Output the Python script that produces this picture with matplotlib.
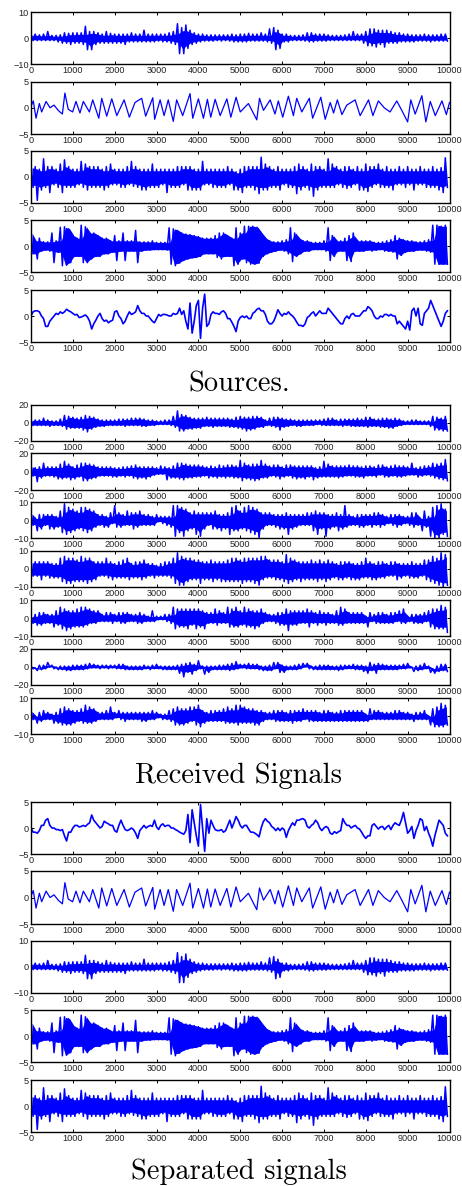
import numpy as np
import matplotlib
matplotlib.use("Agg")
import matplotlib.pyplot as plt

plt.rcParams["font.family"] = ["Liberation Sans"]

# Upper and lower excursions, one value per 100 samples
s1_hi = [1.5,1.5,1.2,1.5,2.5,1,1,1.2,2,1.8, 2,2,2,4.5,2.5,2.5,2,1.5,2.5,1.8, 1.5,1.5,1.5,1.5,2,1.5,1.5,3,1.5,1.5, 1.5,1.5,1.5,2,2.5,5.5,4,5,3,2,
         1.5,1.5,1.2,1.2,1.2,1.2,1.2,1.2,1.5,1.2, 1.5,1.5,1.8,1.5,1.5,2,1.5,3.5,4,3, 1.5,1.5,1,1,1,1.2,2,2,1.5,1.5, 1.5,1.2,1,1,1,1.2,1.5,2.5,1.5,1.5,
         2.5,3.5,3.5,3,3,3,2.5,2,2,1.5, 1.5,1.2,1.2,1.2,1.5,1.2,1.2,1.2,1.5,1.5]
s1_lo = [-1,-1,-1,-1,-1,-1,-1.5,-2,-2,-2.5, -2,-2,-2.5,-4.5,-4.5,-2.5,-2,-2,-2,-2, -2,-2,-2.5,-1.5,-1.5,-1.5,-1.5,-1.5,-1.5,-1.5, -1.2,-1.5,-1.5,-2,-2.5,-6,-6,-4,-2.5,-2,
         -1.5,-1.2,-1.2,-1.2,-1,-1.2,-1,-1.2,-1.5,-1.5, -1.5,-1.5,-1.2,-1.2,-1.2,-1.2,-1.5,-2,-4.5,-4, -1.5,-1.5,-1,-1,-1,-1.2,-1.5,-1.5,-1.2,-1.2, -1.2,-1,-1,-1,-1,-1,-1,-1,-1,-2,
         -3,-3,-3.5,-2.5,-3.5,-2,-2,-2,-1.5,-1.5, -1.5,-1.5,-1.2,-1.2,-1.2,-1.5,-1.2,-1.2,-1.2,-1.2]

# second source is a clean line, turning points only
s2_x = [0,55,120,200,255,360,455,550,650,750,810,890,995,1075,1170,1250,1395,1475,1620,1690,1810,1930,2050,2225,2350,2485,2645,2740,2910,2955,
        3085,3180,3280,3400,3480,3625,3800,3865,4000,4120,4215,4295,4400,4520,4680,4775,4900,5000,5195,5395,5460,5555,5715,5830,5910,6015,6150,6270,6350,6470,
        6650,6730,6925,7030,7150,7230,7320,7430,7545,7745,7865,8065,8170,8300,8440,8580,8740,8860,9000,9075,9180,9340,9435,9540,9660,9820,9925,10000]
s2_y = [0.3,1.3,-2,0.8,-0.8,1.2,0,0.5,-0.5,-1.2,2.8,-0.3,-0.8,1.2,-1,1.2,-0.8,1.5,-2,1.8,-1.6,1.7,-1.5,1.5,-1.8,1,1.8,-1.6,1.9,-2.2,
        1.5,-1.5,1.5,-2.6,1.5,-1.5,2.7,-2,1.7,-2,1.6,-1.8,1.6,-1.5,1.7,-1.8,2,-0.8,0.8,-2.3,1.8,-0.5,1.5,-1.2,1.3,-1.8,2.2,-1.5,1.8,-0.8,
        1.8,-2,2,-2.2,1,-1,1.5,-1.3,0.5,1.5,-1.5,1.5,-1.5,1.3,0,-0.8,1.3,-0.5,-2.7,1.5,-1.2,2.3,-2.7,1.2,-1.5,1.3,-1.3,1]

s3_hi = [2.2,2,1.5,3.5,2,2,1.5,2.5,3.3,2, 1.5,1.5,3,2.5,2,2,2,1.5,2,2.5, 1.5,1.5,1.5,2,3,2,1.5,1.5,1.5,2.5, 1.5,1.5,1.5,1.5,1.5,2,2,2,2,1.5,
         1.5,3,1.5,1.5,1.5,1.5,1.5,2,1.5,1, 1.5,2,2,2,2,3.8,2.5,2,1.5,2, 1.5,1.5,1.5,2,2.5,2,1.5,2.5,2,2, 1.5,3.5,2.5,2,1.5,2,2,1.5,2,1.5,
         2.5,2,2,2.5,1.5,2,1.5,1.5,2,1.5, 2,1.5,1.5,2,1.5,1.5,2,1.5,1.8,3.7]
s3_lo = [-2,-4.5,-2.5,-2,-3,-1.5,-2,-3,-2,-2, -2,-1.5,-2,-2.5,-2,-2,-2,-2.5,-2,-1.5, -1.5,-2,-2,-1.5,-1.8,-2,-2.5,-2.5,-2,-2, -2,-1.5,-3,-2,-2,-2,-1.5,-2.5,-2.5,-2.5,
         -2.5,-1.5,-1.5,-2,-2,-2,-2,-1.5,-2.5,-2.5, -3,-2,-2,-2.5,-3.2,-2.5,-2.5,-2,-2,-2.5, -1.5,-2,-2,-3.2,-2.5,-2,-2.5,-3.7,-2.5,-2, -2,-2,-2,-1.5,-2,-2.2,-2,-1.5,-2.5,-2.5,
         -2.8,-2,-1.5,-2,-2,-2,-2.5,-1.5,-1.5,-2, -1.5,-2.5,-1.5,-1.5,-2,-2,-2,-2.5,-3,-2]

s4_hi = [2.5,1,1.5,0.8,0.8,2.5,1,3.6,3.7,3.3, 2,1.5,4,3.7,2.5,2.5,2,1.5,1.5,1, 2,1,2.5,1,1,3,0.8,0.8,0.8,1, 0.7,0.7,0.7,3.5,3.3,3,2.5,2.3,2.2,2,
         1.8,1.5,1.5,1.5,2,2.5,2.5,2,1.5,3.5, 2.5,3.8,3.8,3.8,3.6,2.5,1.5,1,0.8,0.8, 1,1.2,3.5,2.5,1.5,1,1,0.7,0.7,0.7, 1,3.5,2,1,1,1.5,2,2.5,1,1,
         1,1,0.7,0.7,0.8,1,1.2,2,1.5,1.2, 1,1,0.8,0.8,1,1.2,4,4,3.8,4]
s4_lo = [-1.5,-2.5,-1,-0.8,-1,-3.2,-1.2,-3.8,-3.7,-3.2, -2,-2,-3.2,-3.2,-2.5,-2,-2,-1.5,-1.5,-1.2, -2.8,-1,-2.8,-1,-1,-3.2,-1,-0.8,-0.8,-0.7, -0.7,-0.7,-0.8,-3.5,-3.8,-3.3,-2.8,-2.5,-2.3,-2.2,
         -2,-1.5,-1.5,-1.5,-2.2,-2.5,-2,-2,-3.8,-3.5, -2.5,-3.2,-3.5,-3.5,-3.3,-2,-1.5,-1.2,-1,-0.8, -1,-1.5,-3,-2,-1.5,-1,-1,-0.7,-0.7,-0.7, -1,-2.8,-2,-1,-1,-2.8,-3,-1,-1,-1,
         -0.8,-1,-0.8,-0.7,-1,-1,-1.2,-2.5,-1.8,-1.2, -1,-1,-0.8,-0.8,-1,-1.2,-3.5,-3.5,-3.5,-3.5]

# fifth source and first separated trace: thin wandering lines, one value per 50 samples
s5 = [0,0.8,1,1,0.8,0,-0.5,-2,-2,-1, -0.5,0,0.5,0.3,0.8,0.5,0.8,1.3,1,0.8, 0.5,0.2,0.3,-0.3,-0.2,0,0.2,-0.2,-1,-2.5, -1.5,-0.8,0,0.5,-0.5,-1,-0.8,-1.3,-1,-0.8,
      0.8,1,0,-0.5,-1.5,-1,0,0.8,0.3,0.5, 0.8,2,1,0.5,0.5,0,0,-0.5,-1,-1.3, -0.5,0.3,0,0.3,0.3,0.2,0,0,0.5,0.3, 0.5,1.5,0.3,1,-1,-2.5,2.5,-3.3,-1,2,
      3,-4.3,1.5,4.2,-2,-1.5,0.3,0.8,0.5,0.5, 0.3,0.8,1,0.5,-0.5,-0.5,-1.2,-2,-3,-1, -0.3,0,-0.3,0,-0.5,-0.5,0.5,0.8,1.3,1.5, 1,1,0.3,-1,-1.5,-1.5,-1,0,1.2,0.5,
      0,0.5,0.3,0.8,0.3,0,-0.5,-1.2,-1.8,-1.8, -2,-1.5,-0.3,0,0.5,0.8,0,0.5,1,0.5, 0.5,0.5,1.5,1,0.5,0,-0.5,-1,-1.5,-1.5, -0.5,0,-0.5,0.3,0.5,0,0,0,0.5,1,
      1,1.8,1.5,1,0,-0.5,-0.5,0,-0.2,0.3, 0.3,0,0.3,0,0,-1.5,-1,-1.5,-2,-2.5, -1,-2.7,1,1.5,0,1.5,-1.5,-1.8,0.5,1, 1.5,3,2,1,0,-1,-2,-1,0.5,1]
sep1 = [0,-0.8,-0.8,-1,-0.5,0.5,0.5,1.5,1.8,0.5, 0,0,-0.3,-0.3,-0.5,-0.3,-1.5,-2.5,-0.8,-0.8, 0,0.5,0.5,0.2,0.3,0.5,0.3,0.7,1,2.5, 1.5,1,0.5,0,0.3,1.3,1,0.8,0.5,0.5,
        -0.5,-0.8,0.5,1.5,0.5,-0.3,-0.5,-0.3,0,-0.3, -1,-2,-0.5,0,0.5,0,0.3,0.5,0.3,1.5, 0.2,-0.3,0.5,0.8,0.3,0.5,0.5,0,0,-0.3, -0.5,-0.8,-1,-1.2,-0.5,2.6,-2.8,3.5,1,-1.5,
        -3.5,4.5,0,-4.5,1.8,-1,1.5,0.5,-0.3,-0.5, -0.5,-0.3,-0.8,-0.5,0.5,1.5,0,1,2.2,1.5, 0.5,0,0.5,0.5,-0.2,-0.8,-0.8,-1,-1.3,-1.7, 0,1.2,1.8,1.3,1,0.3,0,-0.5,0,-0.5,
        0,-0.3,-1.8,-0.5,0.3,1,0.5,1.5,1.5,1.7, 1.8,1.5,0.3,0,0.5,0.8,1.5,1,0,-0.5, 0,0.3,0,-1,-1.2,-0.7,-1,-0.7,-0.5,1.8, 1,0.5,0.5,0,0.3,0.5,0,-0.2,-0.8,-1.5,
        -2,-1.5,-1.5,0.5,0.8,0.3,-0.2,0.2,0.3,-0.3, 0.2,0.5,-0.3,0.5,1,0.7,0.5,1.5,3,1, -1,-0.5,0.3,-2,-0.5,0.5,1.8,1.5,-0.5,0.3, -1,-2,-3.5,-1.5,0,1.5,1,0.5,-1,-1.5]

r1_hi = [3,3,3,5,3,2,2,4,8,7, 6,5,6,8,7,6,4,3,3,3, 3,4,4,4,5,5,5,4,3,3, 2,2,3,3,7,13,9,8,6,5, 5,5,6,5,5,5,5,5,4,6, 7,6,6,7,7,6,3,5,6,6,
         5,4,4,3,3,3,3,3,3,3, 4,5,5,3,4,4,4,4,5,4, 6,6,4,4,5,5,4,5,4,2, 2,3,3,2,2,2,7,6,5,7]
r1_lo = [-3,-3,-3,-3,-4,-3,-3,-4,-7,-6, -6,-6,-8,-10,-7,-5,-4,-4,-3,-3, -3,-3,-4,-3,-3,-3,-4,-4,-3,-3, -2,-2,-2,-3,-5,-9,-9,-7,-7,-6, -6,-4,-4,-5,-4,-4,-4,-5,-5,-6, -7,-9,-8,-7,-5,-5,-3,-4,-5,-8,
         -5,-4,-3,-4,-4,-3,-3,-3,-2,-3, -3,-3,-3,-3,-4,-3,-4,-4,-4,-4, -5,-4,-4,-5,-5,-6,-6,-4,-3,-2, -2,-2,-2,-2,-2,-4,-8,-8,-9,-9]
r2_hi = [6,4,5,9,5,5,5,8,11,8, 5,7,9,9,8,7,5,5,5,5, 4,4,5,5,6,7,5,5,5,5, 4,6,5,4,6,9,9,8,7,7, 7,6,5,6,5,7,6,7,7,6, 12,9,7,8,8,12,8,6,7,7,
         5,7,7,6,6,6,6,6,4,5, 11,8,6,6,6,6,7,6,6,5, 6,6,5,7,7,5,6,7,6,6, 5,9,4,5,6,6,9,8,9,13]
r2_lo = [-5,-11,-7,-5,-5,-6,-8,-8,-7,-9, -8,-6,-10,-10,-8,-7,-5,-5,-5,-6, -6,-5,-6,-5,-7,-8,-7,-8,-6,-4, -3,-3,-9,-7,-7,-8,-9,-7,-7,-6, -6,-5,-7,-6,-7,-6,-7,-6,-7,-7, -10,-8,-9,-10,-9,-7,-7,-5,-6,-8,
         -6,-5,-7,-8,-7,-8,-6,-9,-7,-6, -6,-6,-6,-7,-6,-5,-5,-6,-6,-7, -5,-5,-6,-4,-6,-6,-5,-6,-6,-5, -4,-4,-6,-5,-4,-5,-7,-8,-9,-10]
r3_hi = [4,1,3,3,3,3,2,5,9,7, 6,5,7,7,6,5,3,3,2,4, 8,4,3,5,4,4,5,3,3,2, 3,2,2,2,8,8,7,6,4,5, 4,4,4,4,5,3,3,4,7,8, 5,7,8,7,6,4,4,4,3,3,
         3,4,3,3,3,3,4,4,5,4, 4,3,3,4,3,8,3,2,3,3, 3,3,4,4,3,2,3,3,3,2, 2,4,4,1,5,2,7,8,9,6]
r3_lo = [-3,-6,-5,-3,-5,-5,-4,-7,-8,-7, -6,-5,-6,-7,-6,-4,-3,-4,-4,-2, -4,-4,-3,-3,-5,-4,-3,-3,-3,-3, -1,-2,-3,-4,-9,-7,-9,-6,-5,-8, -9,-5,-3,-5,-5,-6,-5,-8,-6,-6, -5,-6,-7,-8,-10,-5,-3,-3,-4,-5,
         -5,-8,-5,-4,-3,-3,-3,-6,-8,-5, -9,-5,-4,-6,-5,-4,-3,-3,-4,-4, -3,-4,-3,-4,-3,-2,-3,-4,-3,-2, -3,-4,-3,-6,-4,-9,-10,-10,-8,-9]
r4_hi = [4,4,4,4,4,3,3,6,7,6, 6,5,7,6,6,4,4,4,6,4, 3,4,5,6,3,4,4,5,3,3, 2,3,4,4,6,9,7,6,6,5, 5,4,4,5,4,4,4,5,6,6, 5,6,6,6,6,7,7,5,5,5,
         4,8,6,5,4,4,4,5,4,5, 4,5,4,3,4,4,4,3,3,4, 6,4,3,4,4,3,4,4,3,3, 3,4,3,3,5,5,7,6,9,8]
r4_lo = [-4,-4,-6,-4,-5,-5,-5,-7,-8,-8, -7,-7,-7,-8,-7,-6,-4,-4,-5,-6, -5,-5,-5,-6,-5,-5,-6,-5,-4,-5, -4,-4,-4,-5,-8,-9,-9,-7,-6,-6, -8,-6,-6,-7,-6,-7,-7,-7,-7,-7, -8,-7,-7,-8,-9,-6,-5,-5,-6,-6,
         -7,-8,-7,-6,-7,-6,-6,-6,-7,-6, -7,-6,-5,-6,-6,-5,-6,-6,-6,-5, -5,-6,-6,-5,-5,-4,-4,-6,-5,-4, -5,-5,-5,-4,-6,-7,-8,-9,-10,-9]
r5_hi = [1,2,3,3,2,2,4,6,5,4, 4,5,6,6,5,4,4,2,3,3, 2,3,3,3,2,2,3,2,1,4, 1,1,2,2,6,5,5,5,5,5, 5,4,3,3,5,4,3,6,5,6, 4,6,5,4,4,5,3,2,2,3,
         3,5,4,4,4,4,5,4,3,4, 3,3,2,4,6,5,3,3,3,3, 1,3,2,3,3,2,3,3,4,5, 1,2,2,2,3,4,5,5,7,6]
r5_lo = [-3,-4,-4,-3,-3,-5,-4,-6,-7,-6, -5,-5,-5,-4,-3,-3,-2,-2,-2,-3, -2,-3,-3,-2,-2,-3,-3,-2,-2,-2, -1,-1,-2,-3,-6,-5,-5,-6,-4,-6, -5,-6,-3,-3,-4,-3,-3,-5,-5,-5, -4,-5,-5,-6,-5,-3,-2,-2,-3,-4,
         -4,-7,-4,-4,-3,-3,-5,-3,-4,-3, -4,-3,-3,-4,-4,-3,-3,-3,-3,-3, -5,-2,-3,-3,-3,-3,-3,-2,-3,-3, -2,-3,-3,-3,-2,-5,-6,-6,-6,-8]
r6_hi = [1,-1,2,2,5,2,0,1,1,1, 2,2,2,3,4,3,2,2,2,2, 2,3,3,1,1,1,1,2,1,2, 3,1,1,1,1,2,3,4,5,3, 7,1,1,1,1,2,2,3,4,6, 3,3,4,3,3,1,1,2,5,5,
         2,1,1,2,3,4,4,1,1,2, 2,2,1,1,2,2,2,3,2,2, 1,5,3,4,3,2,2,2,2,3, 4,0,1,2,4,1,-2,1,3,3]
r6_lo = [-2,-4,-3,-2,0,-2,-3,-3,-4,-4, -3,-3,-3,-2,-1,-1,-2,-1,-2,-1, -2,-2,-3,-3,-3,-3,-3,-2,-3,-2, -2,-3,-3,-3,-3,-7,-11,-6,-8,-4, -2,-8,-6,-3,-3,-3,-3,-4,-3,-2, -1,-2,-2,-2,-3,-4,-4,-4,-2,-6,
         -6,-3,-3,-3,-2,0,-2,-3,-3,-3, -3,-3,-3,-4,-3,-2,-2,-3,-3,-5, -7,-4,-7,-3,-3,-3,-3,-3,-2,-2, -1,-5,-4,-3,-2,-6,-7,-5,-4,-5]
r7_hi = [3,0,2,3,2,1,2,4,5,4, 3,3,4,6,5,4,2,2,3,5, 2,3,2,2,2,2,2,2,2,3, 2,1,1,3,4,5,4,4,5,5, 6,3,2,3,3,3,4,5,4,6, 6,5,4,4,3,3,2,2,3,3,
         3,2,3,3,3,4,3,3,3,2, 3,3,2,2,3,3,3,3,3,3, 1,4,3,3,2,2,2,3,3,2, 2,1,2,2,3,0,4,5,7,6]
r7_lo = [-2,-4,-3,-2,-2,-4,-4,-5,-5,-5, -4,-3,-4,-4,-4,-3,-2,-2,-2,-2, -1,-2,-3,-2,-2,-2,-3,-3,-2,-2, -1,-2,-2,-3,-5,-5,-5,-4,-3,-5, -6,-4,-3,-3,-3,-3,-4,-4,-4,-5, -4,-4,-4,-5,-5,-3,-2,-2,-3,-3,
         -3,-3,-4,-3,-3,-2,-3,-3,-3,-3, -3,-3,-3,-3,-3,-3,-3,-3,-3,-3, -3,-2,-2,-2,-2,-2,-2,-2,-2,-2, -2,-3,-2,-2,-2,-5,-6,-6,-6,-5]

# the separated traces 2-5 recover the sources almost exactly, so they share the readings
s5_x = np.arange(len(s5)) * 50
panels = [
    # top px, bottom px, ylim, kind, a, b, body share or line width
    (12, 64, 10, "band", s1_hi, s1_lo, 0.7),
    (81.5, 134, 5, "line", s2_x, s2_y, 0.9),
    (151, 203, 5, "band", s3_hi, s3_lo, 0.8),
    (220, 272, 5, "band", s4_hi, s4_lo, 1.0),
    (290, 342, 5, "line", s5_x, s5, 1.2),
    (404.5, 441, 20, "band", r1_hi, r1_lo, 0.85),
    (453, 490, 20, "band", r2_hi, r2_lo, 0.85),
    (502, 538, 10, "band", r3_hi, r3_lo, 0.85),
    (551, 587, 10, "band", r4_hi, r4_lo, 0.85),
    (600, 636, 10, "band", r5_hi, r5_lo, 0.85),
    (649, 685, 20, "band", r6_hi, r6_lo, 0.85),
    (698, 734, 10, "band", r7_hi, r7_lo, 0.85),
    (802, 854, 5, "line", s5_x, sep1, 1.2),
    (871, 924, 5, "line", s2_x, s2_y, 0.9),
    (941, 993, 10, "band", s1_hi, s1_lo, 0.7),
    (1010, 1062, 5, "band", s4_hi, s4_lo, 1.0),
    (1080, 1132, 5, "band", s3_hi, s3_lo, 0.8),
]
titles = [("Sources.", 384), ("Received Signals", 776), ("Separated signals", 1172)]
xticks = [0, 1000, 2000, 3000, 4000, 5000, 6000, 7000, 8000, 9000, 10000]

W, H = 462, 1186
fig = plt.figure(figsize=(W / 100, H / 100), dpi=100)

for top, bottom, lim, kind, a, b, share in panels:
    ax = fig.add_axes([31 / W, 1 - bottom / H, 418.5 / W, (bottom - top) / H])
    if kind == "line":
        ax.plot(a, b, color="#0000ff", lw=share)
    else:
        hi = np.array(a)
        lo = np.array(b)
        x = np.arange(len(hi)) * 100
        xs = np.column_stack([x, x + 50]).ravel()
        ys = np.column_stack([hi, lo]).ravel()
        ax.plot(xs, ys, color="#0000ff", lw=1.1)
        # where neighbouring excursions overlap the trace prints as a solid band
        ax.fill_between(x + 25, share * np.maximum(lo, np.roll(lo, 1)), share * np.minimum(hi, np.roll(hi, 1)),
                        color="#0000ff", lw=0)
    ax.set_xlim(0, 10000)
    ax.set_ylim(-lim, lim)
    ax.set_xticks(xticks)
    ax.set_yticks([-lim, 0, lim])
    ax.tick_params(direction="in", top=True, right=True, length=2.2, width=0.7,
                   labelsize=6.6, pad=1.5, labelcolor="#222222")
    for spine in ax.spines.values():
        spine.set_linewidth(1.0)

for text, y in titles:
    fig.text(239 / W, 1 - y / H, text, family="cmr10", fontsize=20.5, ha="center", va="center")

fig.savefig("out.png", dpi=100)
